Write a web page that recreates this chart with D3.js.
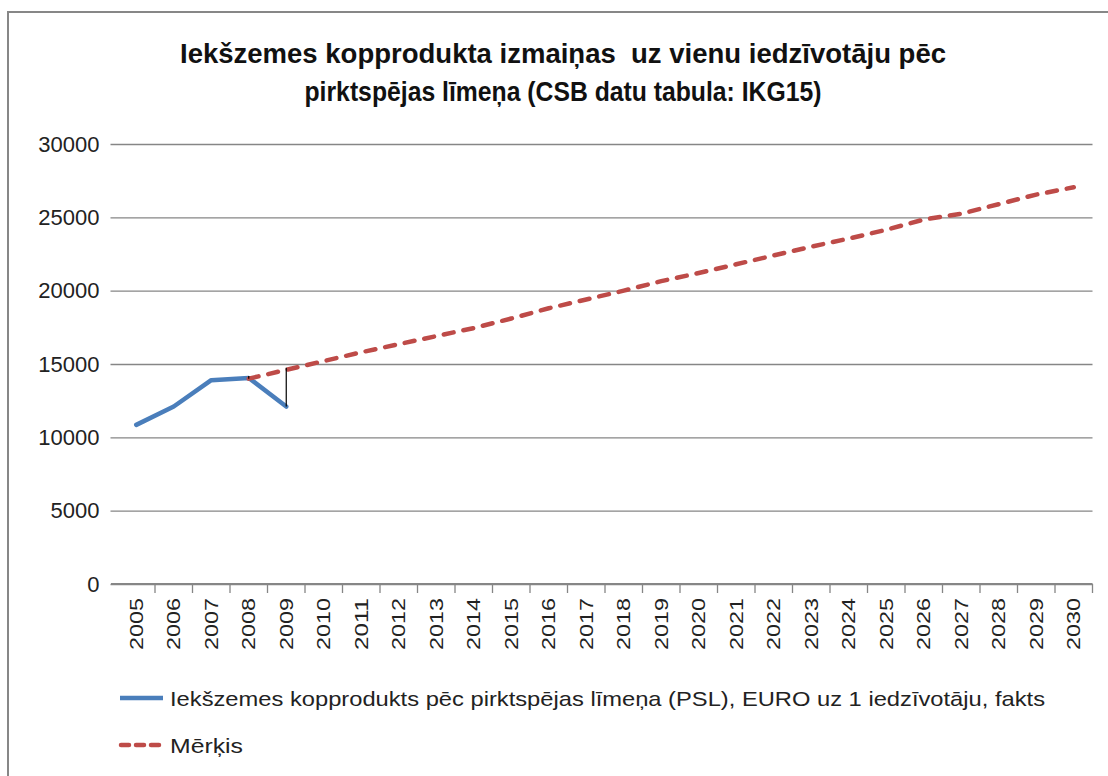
<!DOCTYPE html>
<html>
<head>
<meta charset="utf-8">
<script src="https://cdn.jsdelivr.net/npm/d3@7"></script>
<style>
  html, body { margin: 0; padding: 0; background: #fff; }
  svg { display: block; }
  .ytick text { font-family: "Liberation Sans", Arial, sans-serif; font-size: 22px; fill: #222; }
  .xtick text { font-family: "Liberation Sans", Arial, sans-serif; font-size: 18px; fill: #222; }
</style>
</head>
<body>
<svg id="chart" width="1108" height="776"></svg>
<script>
// D3 v7
const titleLines = [
  'Iekšzemes kopprodukta izmaiņas  uz vienu iedzīvotāju pēc',
  'pirktspējas līmeņa (CSB datu tabula: IKG15)'
];
const years = ['2005','2006','2007','2008','2009','2010','2011','2012','2013','2014','2015','2016','2017',
  '2018','2019','2020','2021','2022','2023','2024','2025','2026','2027','2028','2029','2030'];
const yTicks = [0, 5000, 10000, 15000, 20000, 25000, 30000];

// fakts: 2005-2009
const faktsYears = ['2005','2006','2007','2008','2009'];
const faktsValues = [10850, 12100, 13900, 14050, 12100];

// mērķis: 2008-2030
const merkisYears = ['2008','2009','2010','2011','2012','2013','2014','2015','2016','2017','2018','2019',
  '2020','2021','2022','2023','2024','2025','2026','2027','2028','2029','2030'];
const merkisValues = [14000, 14600, 15200, 15800, 16350, 16900, 17450, 18100, 18800, 19400, 20000, 20650,
  21200, 21800, 22400, 23000, 23550, 24150, 24850, 25250, 25900, 26550, 27050];

const legendLabels = [
  'Iekšzemes kopprodukts pēc pirktspējas līmeņa (PSL), EURO uz 1 iedzīvotāju, fakts',
  'Mērķis'
];

const blue = '#4a7ebb', red = '#be4b48';

const svg = d3.select('#chart');

// outer chart border
svg.append('rect').attr('x', 8).attr('y', 12).attr('width', 1120).attr('height', 800)
  .attr('fill', 'none').attr('stroke', '#878787').attr('stroke-width', 2);

// title
svg.append('g').selectAll('text').data(titleLines).join('text')
  .attr('x', 563).attr('y', (d, i) => 63 + i * 38)
  .attr('text-anchor', 'middle')
  .style('white-space', 'pre')
  .attr('font-family', '"Liberation Sans Narrow", "Liberation Sans", Arial, sans-serif')
  .attr('font-weight', 'bold').attr('font-size', 28).attr('fill', '#111')
  .attr('textLength', (d, i) => i === 0 ? 766 : 517)
  .attr('lengthAdjust', 'spacingAndGlyphs')
  .text(d => d);

// scales
const x = d3.scaleBand().domain(years).range([117.5, 1092.5]);
const y = d3.scaleLinear().domain([0, 30000]).range([584, 144]);
const cx = d => x(d) + x.bandwidth() / 2;

// y gridlines + labels
const yg = svg.append('g').attr('class', 'ytick').attr('transform', 'translate(117.5,0)')
  .call(d3.axisLeft(y).tickValues(yTicks).tickSize(-975).tickPadding(18).tickFormat(d3.format('d')));
yg.select('.domain').remove();
yg.selectAll('.tick line').attr('stroke', '#868686').attr('stroke-width', 1.3).attr('x1', -7);

// x axis
const xg = svg.append('g').attr('class', 'xtick').attr('transform', 'translate(0,584)')
  .call(d3.axisBottom(x).tickSize(0).tickSizeOuter(0));
xg.select('.domain').attr('stroke', '#868686').attr('stroke-width', 2).attr('d', 'M111,0H1092.5');
xg.selectAll('.tick text')
  .attr('transform', 'rotate(-90)')
  .attr('text-anchor', 'end')
  .attr('x', -14).attr('y', 0).attr('dy', '0.35em')
  .attr('textLength', 52).attr('lengthAdjust', 'spacingAndGlyphs');
// category tick marks between labels
svg.append('g').selectAll('line').data(years).join('line')
  .attr('x1', (d, i) => x.range()[0] + (i + 1) * x.step())
  .attr('x2', (d, i) => x.range()[0] + (i + 1) * x.step())
  .attr('y1', 584).attr('y2', 593)
  .attr('stroke', '#868686').attr('stroke-width', 1.3);

// lines
const line = d3.line().x(d => cx(d[0])).y(d => y(d[1]));
const fakts = faktsYears.map((yr, i) => [yr, faktsValues[i]]);
const merkis = merkisYears.map((yr, i) => [yr, merkisValues[i]]);

svg.append('path').datum(fakts).attr('d', line)
  .attr('fill', 'none').attr('stroke', blue).attr('stroke-width', 4.5)
  .attr('stroke-linejoin', 'round').attr('stroke-linecap', 'round');

svg.append('path').datum(merkis).attr('d', line)
  .attr('fill', 'none').attr('stroke', red).attr('stroke-width', 4.5)
  .attr('stroke-dasharray', '10,10').attr('stroke-linecap', 'round');

// high-low lines where both series have values
const hiLo = faktsYears.filter(yr => merkisYears.includes(yr)).map(yr => {
  const a = faktsValues[faktsYears.indexOf(yr)], b = merkisValues[merkisYears.indexOf(yr)];
  return { yr, lo: Math.min(a, b), hi: Math.max(a, b) };
});
svg.append('g').selectAll('line').data(hiLo).join('line')
  .attr('x1', d => cx(d.yr)).attr('x2', d => cx(d.yr))
  .attr('y1', d => y(d.hi) - 2).attr('y2', d => y(d.lo))
  .attr('stroke', '#000').attr('stroke-width', 1.2);

// legend
const leg = svg.append('g');
const legY = [698, 745];
leg.append('line').attr('x1', 120).attr('x2', 163).attr('y1', legY[0]).attr('y2', legY[0])
  .attr('stroke', blue).attr('stroke-width', 4.5);
leg.append('line').attr('x1', 121).attr('x2', 163).attr('y1', legY[1]).attr('y2', legY[1])
  .attr('stroke', red).attr('stroke-width', 4.5).attr('stroke-dasharray', '8,7').attr('stroke-linecap', 'round');
leg.selectAll('text').data(legendLabels).join('text')
  .attr('x', 170).attr('y', (d, i) => legY[i] + 8)
  .attr('font-family', '"Liberation Sans", Arial, sans-serif').attr('font-size', 21).attr('fill', '#222')
  .attr('textLength', (d, i) => i === 0 ? 875 : 73)
  .attr('lengthAdjust', 'spacingAndGlyphs')
  .text(d => d);
</script>
</body>
</html>
